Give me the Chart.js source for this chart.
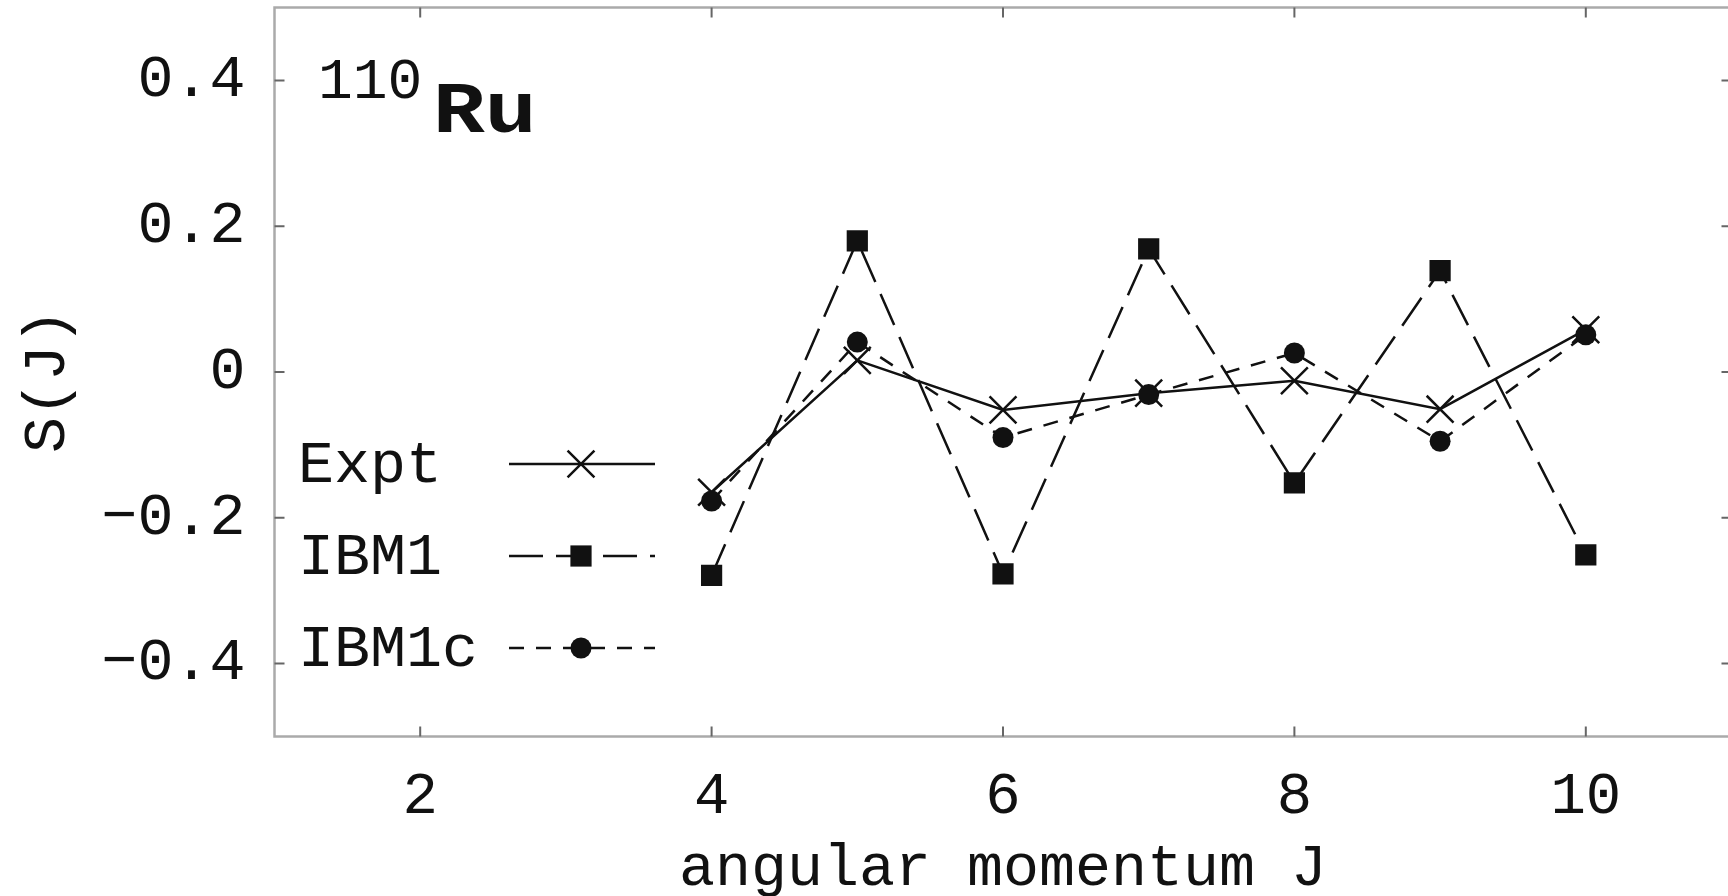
<!DOCTYPE html>
<html>
<head>
<meta charset="utf-8">
<title>S(J) 110Ru</title>
<script src="https://cdn.jsdelivr.net/npm/chart.js@4.4.1/dist/chart.umd.min.js"></script>
<style>
  html, body { margin: 0; padding: 0; background: #fff; overflow: hidden; }
  #wrap { position: relative; width: 1740px; height: 896px; }
</style>
</head>
<body>
<div id="wrap"><canvas id="sjChart"></canvas></div>
<script>
// staggering S(J) of the gamma band, 110Ru
const spins = [4, 5, 6, 7, 8, 9, 10];
const exptValues = [-0.165, 0.016, -0.052, -0.029, -0.012, -0.051, 0.058];
const ibm1Values = [-0.279, 0.180, -0.277, 0.169, -0.152, 0.139, -0.251];
const ibm1cValues = [-0.177, 0.041, -0.090, -0.031, 0.026, -0.095, 0.051];

const xTickValues = [2, 4, 6, 8, 10];
const yTickValues = [-0.4, -0.2, 0, 0.2, 0.4];
const seriesNames = ["Expt", "IBM1", "IBM1c"];
const yTitle = "S(J)";
const xTitle = "angular momentum J";

const MONO = '"Courier New", "Liberation Mono", monospace';
const INK = "#111";

function toPoints(values) {
  return spins.map((j, i) => ({ x: j, y: values[i] }));
}

function yLabel(v) {
  if (v === 0) return "0";
  return (v < 0 ? "\u2212" : "") + Math.abs(v).toFixed(1);
}

// keep the plot box where it is set, no room reserved for edge labels
function noEdgePadding(s) {
  s.paddingTop = 0;
  s.paddingBottom = 0;
  s.paddingLeft = 0;
  s.paddingRight = 0;
}

// box around the plot with inward ticks on all four sides
const framePlugin = {
  id: "frame",
  beforeDatasetsDraw(chart) {
    const { ctx, chartArea: a } = chart;
    const xs = chart.scales.x;
    const ys = chart.scales.y;
    ctx.save();
    ctx.strokeStyle = "#aaaaaa";
    ctx.lineWidth = 2.5;
    ctx.strokeRect(a.left, a.top, a.right - a.left, a.bottom - a.top);
    ctx.strokeStyle = "#666";
    ctx.lineWidth = 2;
    ctx.beginPath();
    xTickValues.forEach(v => {
      const px = xs.getPixelForValue(v);
      ctx.moveTo(px, a.bottom); ctx.lineTo(px, a.bottom - 10);
      ctx.moveTo(px, a.top); ctx.lineTo(px, a.top + 10);
    });
    yTickValues.forEach(v => {
      const py = ys.getPixelForValue(v);
      ctx.moveTo(a.left, py); ctx.lineTo(a.left + 10, py);
      ctx.moveTo(a.right, py); ctx.lineTo(a.right - 10, py);
    });
    ctx.stroke();
    ctx.restore();
  }
};

// y title, nucleus label and key drawn inside the plot
const keyPlugin = {
  id: "key",
  afterDraw(chart) {
    const { ctx } = chart;
    ctx.save();
    ctx.fillStyle = INK;

    ctx.save();
    ctx.translate(48, 381);
    ctx.rotate(-Math.PI / 2);
    ctx.font = "60px " + MONO;
    ctx.textAlign = "center";
    ctx.textBaseline = "middle";
    ctx.fillText(yTitle, 0, 0);
    ctx.restore();

    ctx.textBaseline = "alphabetic";
    ctx.textAlign = "left";
    ctx.font = "58px " + MONO;
    ctx.fillText("110", 318, 98);
    ctx.save();
    ctx.translate(433, 132);
    ctx.scale(1.2, 1);
    ctx.font = "bold 72px " + MONO;
    ctx.fillText("Ru", 0, 0);
    ctx.restore();

    const rowY = [464, 556, 648];
    const x0 = 509, x1 = 655, xm = 581;
    chart.data.datasets
      .slice()
      .sort((p, q) => seriesNames.indexOf(p.label) - seriesNames.indexOf(q.label))
      .forEach((ds, i) => {
        const y = rowY[i];
        ctx.font = "60px " + MONO;
        ctx.textBaseline = "middle";
        ctx.fillStyle = INK;
        ctx.fillText(ds.label, 298, y + 2);

        ctx.strokeStyle = ds.borderColor;
        ctx.lineWidth = ds.borderWidth;
        ctx.setLineDash(ds.borderDash || []);
        ctx.beginPath();
        ctx.moveTo(x0, y);
        ctx.lineTo(x1, y);
        ctx.stroke();
        ctx.setLineDash([]);

        ctx.fillStyle = ds.pointBackgroundColor;
        ctx.strokeStyle = ds.pointBorderColor;
        ctx.lineWidth = ds.pointBorderWidth;
        Chart.helpers.drawPoint(ctx, {
          pointStyle: ds.pointStyle,
          radius: ds.pointRadius,
          rotation: 0,
          borderWidth: ds.pointBorderWidth
        }, xm, y);
      });
    ctx.restore();
  }
};

new Chart(document.getElementById("sjChart"), {
  type: "line",
  data: {
    datasets: [
      {
        label: "Expt",
        data: toPoints(exptValues),
        order: 2,
        borderColor: INK,
        borderWidth: 2.5,
        pointStyle: "crossRot",
        pointRadius: 19,
        pointBorderColor: INK,
        pointBackgroundColor: INK,
        pointBorderWidth: 2.5
      },
      {
        label: "IBM1",
        data: toPoints(ibm1Values),
        order: 3,
        borderColor: INK,
        borderWidth: 2.5,
        borderDash: [34, 13],
        pointStyle: "rect",
        pointRadius: 15,
        pointBorderColor: INK,
        pointBackgroundColor: INK,
        pointBorderWidth: 0
      },
      {
        label: "IBM1c",
        data: toPoints(ibm1cValues),
        order: 1,
        borderColor: INK,
        borderWidth: 2.5,
        borderDash: [15, 12],
        pointStyle: "circle",
        pointRadius: 10.5,
        pointBorderColor: INK,
        pointBackgroundColor: INK,
        pointBorderWidth: 0
      }
    ]
  },
  options: {
    responsive: true,
    maintainAspectRatio: false,
    animation: false,
    layout: {
      autoPadding: false,
      padding: { left: 0, right: 8.5, top: 7.5, bottom: 0 }
    },
    plugins: {
      legend: { display: false },
      tooltip: { enabled: false }
    },
    elements: { line: { tension: 0, fill: false } },
    scales: {
      x: {
        type: "linear",
        min: 1,
        max: 11,
        afterBuildTicks: s => { s.ticks = xTickValues.map(v => ({ value: v })); },
        afterFit: s => { s.height = 159.5; noEdgePadding(s); },
        grid: { display: false, drawTicks: false },
        border: { display: false },
        ticks: {
          padding: 25,
          color: INK,
          font: { family: MONO, size: 59 },
          callback: v => String(v)
        },
        title: {
          display: true,
          text: xTitle,
          color: INK,
          font: { family: MONO, size: 60, lineHeight: 1 },
          padding: { top: 0, bottom: -3 }
        }
      },
      y: {
        type: "linear",
        min: -0.5,
        max: 0.5,
        afterBuildTicks: s => { s.ticks = yTickValues.map(v => ({ value: v })); },
        afterFit: s => { s.width = 274.5; noEdgePadding(s); },
        grid: { display: false, drawTicks: false },
        border: { display: false },
        ticks: {
          padding: 29,
          color: INK,
          font: { family: MONO, size: 60 },
          callback: v => yLabel(v)
        },
        title: { display: false }
      }
    }
  },
  plugins: [framePlugin, keyPlugin]
});
</script>
</body>
</html>
